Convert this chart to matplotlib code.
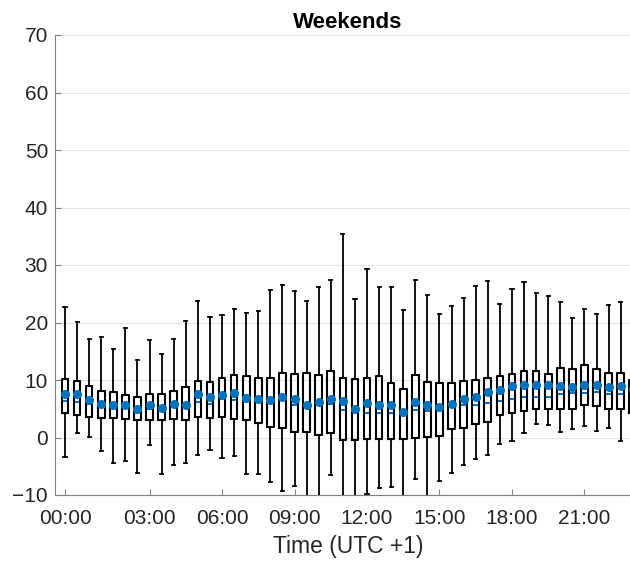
import numpy as np
import matplotlib.pyplot as plt

# half-hour slots, 48 boxes
positions = np.arange(1, 49)

whislo = [-3.4, 0.7, 0.1, -2.3, -4.5, -4.1, -6.1, -1.3, -6.4, -4.8, -4.5, -3.1,
          -2.1, -3.5, -3.2, -6.4, -6.4, -7.7, -9.3, -8.4, -11, -12, -6.6, -13,
          -12, -9.9, -8.7, -8.6, -11, -7.2, -11, -7.6, -6.1, -4.8, -3.8, -3.0,
          -1.2, -0.6, 0.8, 2.3, 2.1, 1.0, 1.4, 2.0, 1.2, 1.6, -0.6, 0.0]
q1 = [4.2, 4.0, 3.6, 3.4, 3.4, 3.3, 3.1, 3.1, 3.0, 3.3, 3.1, 3.5,
      3.4, 3.5, 3.3, 3.0, 2.6, 1.9, 1.7, 1.0, 0.9, 0.5, 0.8, -0.5,
      -0.5, -0.3, -0.3, -0.3, -0.2, 0.0, 0.1, 0.2, 1.4, 1.7, 2.4, 2.7,
      3.9, 4.2, 4.6, 5.0, 4.9, 4.9, 5.0, 5.6, 5.4, 5.0, 4.9, 4.3]
med = [6.3, 6.2, 5.8, 5.3, 5.3, 5.1, 4.9, 4.9, 5.1, 5.4, 5.4, 6.1,
       5.9, 6.7, 6.5, 6.3, 6.4, 6.2, 6.6, 5.6, 5.4, 5.9, 5.9, 4.7,
       4.8, 4.3, 4.3, 4.2, 4.3, 4.7, 4.6, 5.0, 5.4, 5.6, 5.6, 6.0,
       6.4, 6.7, 7.0, 7.0, 7.1, 7.5, 7.7, 7.8, 7.9, 7.5, 7.5, 7.3]
mean = [7.5, 7.5, 6.6, 5.9, 5.7, 5.7, 5.0, 5.7, 5.2, 5.8, 5.6, 7.5,
        7.1, 7.4, 7.7, 6.8, 6.7, 6.5, 7.0, 6.7, 5.6, 6.1, 6.7, 6.4,
        5.0, 6.0, 5.7, 5.6, 4.5, 6.1, 5.6, 5.3, 5.8, 6.7, 7.1, 7.9,
        8.2, 8.9, 9.2, 9.1, 9.2, 8.9, 8.8, 9.1, 9.1, 8.7, 9.0, 8.3]
q3 = [10.1, 9.8, 8.9, 8.1, 7.9, 7.4, 7.1, 7.6, 7.5, 8.1, 8.7, 9.9,
      9.6, 10.3, 10.8, 10.7, 10.4, 10.3, 11.3, 11.0, 11.2, 10.8, 11.5, 10.4,
      10.1, 10.3, 10.7, 9.4, 8.5, 10.8, 9.7, 9.4, 9.4, 9.8, 10.0, 10.4,
      10.7, 11.0, 11.5, 11.5, 11.0, 12.1, 11.9, 12.6, 11.9, 11.2, 11.3, 10.0]
whishi = [22.7, 20.1, 17.1, 17.4, 15.4, 19.1, 13.4, 17.0, 14.5, 17.1, 20.3, 23.8,
          21.0, 21.3, 22.4, 21.7, 22.0, 25.6, 26.6, 25.4, 23.8, 26.2, 27.4, 35.4,
          24.1, 29.3, 26.1, 26.2, 22.1, 27.4, 24.8, 21.4, 22.8, 24.3, 26.4, 27.2,
          23.3, 25.8, 27.1, 25.2, 24.6, 23.5, 20.7, 22.3, 21.4, 23.1, 23.5, 20.0]

tick_pos = [1, 8, 14, 20, 26, 32, 38, 44]
tick_labels = ['00:00', '03:00', '06:00', '09:00', '12:00', '15:00', '18:00', '21:00']

blue = '#0072BD'
plt.rcParams['font.family'] = ['Liberation Sans', 'DejaVu Sans']

fig = plt.figure(figsize=(6.3, 5.62), dpi=100)
ax = fig.add_axes([55/630, 67/562, 586/630, 460/562])

stats = []
for i in range(len(positions)):
    stats.append(dict(whislo=whislo[i], q1=q1[i], med=med[i], mean=mean[i],
                      q3=q3[i], whishi=whishi[i], fliers=[]))

art = ax.bxp(stats, positions=positions, widths=0.55, showmeans=True,
             showfliers=False, manage_ticks=False,
             boxprops=dict(color='black', linewidth=1.5),
             whiskerprops=dict(color='black', linewidth=1.3, linestyle='-'),
             capprops=dict(color='black', linewidth=1.3),
             medianprops=dict(color=blue, linewidth=1.4),
             meanprops=dict(marker='o', markerfacecolor=blue,
                            markeredgecolor=blue, markersize=5.5))
for b in art['boxes']:
    b.set_zorder(4)
for c in art['caps']:
    x = c.get_xdata()
    mid = x.mean()
    c.set_xdata([mid - 0.13, mid + 0.13])
for m in art['means']:
    m.set_zorder(5)

ax.set_xlim(0.172, 48.68)
ax.set_ylim(-10, 70)
ax.set_yticks(np.arange(-10, 71, 10))
ax.set_xticks(tick_pos)
ax.set_xticklabels(tick_labels)
ax.yaxis.grid(True, color='#e6e6e6', linewidth=0.8)
ax.set_axisbelow(True)

for s in ['top', 'right']:
    ax.spines[s].set_visible(False)
for s in ['left', 'bottom']:
    ax.spines[s].set_color('#808080')
    ax.spines[s].set_linewidth(0.8)

ax.tick_params(axis='both', direction='in', length=4, width=0.8,
               color='#808080', labelcolor='#262626', labelsize=15)
ax.tick_params(axis='x', pad=10)
ax.tick_params(axis='y', pad=5)

ax.set_xlabel('Time (UTC +1)', fontsize=16.5, color='#262626', labelpad=5)
ax.set_title('Weekends', fontsize=16, fontweight='bold', color='black', pad=5)

fig.savefig('out.png', dpi=100)
